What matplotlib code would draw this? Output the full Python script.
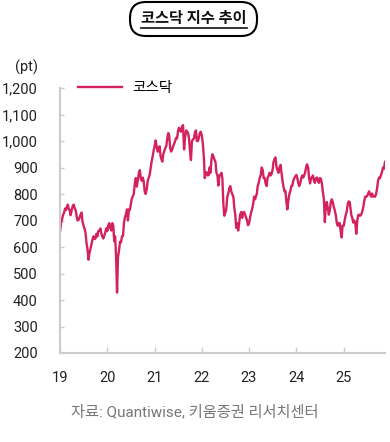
import numpy as np
import pandas as pd
import matplotlib
matplotlib.use('Agg')
import matplotlib.pyplot as plt
from matplotlib.patches import FancyBboxPatch
from matplotlib.lines import Line2D

plt.rcParams['font.family'] = ['Roboto', 'Noto Sans CJK KR', 'DejaVu Sans']

# KOSDAQ index, roughly weekly (4 points per month)
kosdaq_2019 = [660, 690, 705, 720, 730, 745, 740, 752, 760, 745, 738, 720,
               740, 755, 760, 748, 738, 718, 700, 702, 712, 722, 730, 695,
               682, 670, 655, 618, 590, 552, 578, 592, 612, 628, 640, 630,
               632, 650, 640, 660, 662, 670, 650, 640, 632, 642, 655, 670]
kosdaq_2020 = [660, 682, 690, 672, 662, 690, 680, 622, 640, 570, 428, 560,
               590, 620, 618, 640, 642, 690, 712, 722, 742, 700, 742, 740,
               762, 782, 792, 800, 842, 860, 828, 852, 880, 890, 858, 850,
               862, 848, 808, 800, 820, 850, 862, 872, 900, 922, 942, 962]
kosdaq_2021 = [982, 1002, 980, 960, 962, 980, 940, 930, 922, 950, 962, 972,
               982, 1010, 1030, 1020, 972, 960, 968, 980, 990, 1000, 1012, 1010,
               1040, 1050, 1040, 1035, 1055, 1060, 968, 1010, 1040, 1035, 1030, 1010,
               962, 928, 1000, 1005, 1010, 1032, 1040, 1000, 1000, 1012, 1030, 1035]
kosdaq_2022 = [1020, 990, 940, 860, 880, 882, 870, 872, 900, 880, 932, 950,
               940, 930, 920, 880, 870, 832, 870, 872, 880, 858, 760, 718,
               730, 742, 790, 800, 822, 830, 810, 800, 790, 750, 720, 672,
               690, 662, 690, 722, 732, 710, 730, 732, 722, 712, 700, 682]
kosdaq_2023 = [690, 712, 730, 742, 762, 790, 780, 792, 800, 830, 842, 860,
               872, 900, 890, 860, 860, 840, 830, 860, 870, 880, 870, 875,
               890, 920, 932, 938, 900, 890, 880, 900, 910, 880, 850, 828,
               810, 812, 770, 742, 780, 800, 812, 830, 832, 850, 860, 866]
kosdaq_2024 = [872, 860, 840, 830, 842, 860, 870, 862, 870, 880, 900, 912,
               900, 862, 840, 860, 862, 870, 850, 842, 860, 862, 850, 842,
               860, 858, 840, 810, 780, 694, 760, 770, 742, 722, 740, 770,
               780, 770, 752, 740, 720, 692, 680, 690, 690, 660, 636, 680]
kosdaq_2025 = [680, 700, 720, 732, 762, 772, 770, 742, 720, 710, 692, 700,
               690, 650, 700, 720, 722, 718, 722, 732, 750, 772, 790, 790,
               792, 800, 810, 800, 790, 802, 790, 792, 790, 800, 822, 850,
               862, 860, 872, 882, 900, 895, 921]

values = kosdaq_2019 + kosdaq_2020 + kosdaq_2021 + kosdaq_2022 + kosdaq_2023 + kosdaq_2024 + kosdaq_2025

# 4 points per month
months = pd.date_range('2019-01-01', '2025-11-01', freq='MS')
offsets = [1, 8, 16, 23]
dates = [m + pd.Timedelta(days=d) for m in months for d in offsets][:len(values)]

year_ticks = pd.date_range('2019-01-01', '2025-01-01', freq='YS')
year_labels = ['19', '20', '21', '22', '23', '24', '25']
y_ticks = [200, 300, 400, 500, 600, 700, 800, 900, 1000, 1100, 1200]

line_color = '#D4215F'
grey = '#CCCCCC'

fig = plt.figure(figsize=(3.9, 4.42), dpi=100)
ax = fig.add_axes([60/390, 1 - 353/442, 325/390, 265/442])

ax.plot(dates, values, color=line_color, linewidth=1.7, label='코스닥')

ax.set_xlim(pd.Timestamp('2019-01-01'), dates[-1])
ax.set_ylim(200, 1200)
ax.set_xticks(year_ticks)
ax.set_xticklabels(year_labels)
ax.set_yticks(y_ticks)
ax.set_yticklabels([f'{v:,}' for v in y_ticks])

for side in ['top', 'right']:
    ax.spines[side].set_visible(False)
for side in ['left', 'bottom']:
    ax.spines[side].set_color(grey)
    ax.spines[side].set_linewidth(1.5)
ax.tick_params(axis='x', direction='in', length=4, width=1, color=grey,
               labelsize=10.5, pad=13, labelcolor='#222222')
ax.tick_params(axis='y', direction='in', length=3, width=1, color=grey,
               labelsize=10.5, pad=16, labelcolor='#222222')

# legend
fig.legend(loc='center left', bbox_to_anchor=(78/390, 1 - 88/442), frameon=False,
           handlelength=3.0, handletextpad=0.7, borderpad=0, borderaxespad=0,
           fontsize=10.5)

# unit label
fig.text(26/390, 1 - 67/442, '(pt)', ha='center', va='center', fontsize=10.5, color='#222222')

# title in rounded box
box = FancyBboxPatch((1.30, 4.42 - 0.36), 1.27, 0.34,
                     boxstyle='round,pad=0,rounding_size=0.16',
                     transform=fig.dpi_scale_trans, facecolor='white',
                     edgecolor='black', linewidth=1.5)
fig.patches.append(box)
title = fig.text(194/390, 1 - 19/442, '코스닥 지수 추이', ha='center', va='center',
                 fontsize=11, fontweight='bold', color='#111111')

# underline the title
fig.canvas.draw()
bb = title.get_window_extent().transformed(fig.transFigure.inverted())
fig.lines.append(Line2D([bb.x0, bb.x1], [1 - 28/442, 1 - 28/442],
                        transform=fig.transFigure, color='#111111', linewidth=1.2))

# source
fig.text(195/390, 1 - 412/442, '자료: Quantiwise, 키움증권 리서치센터', ha='center', va='center',
         fontsize=11, color='#777777')

fig.savefig('out.png', dpi=100)
